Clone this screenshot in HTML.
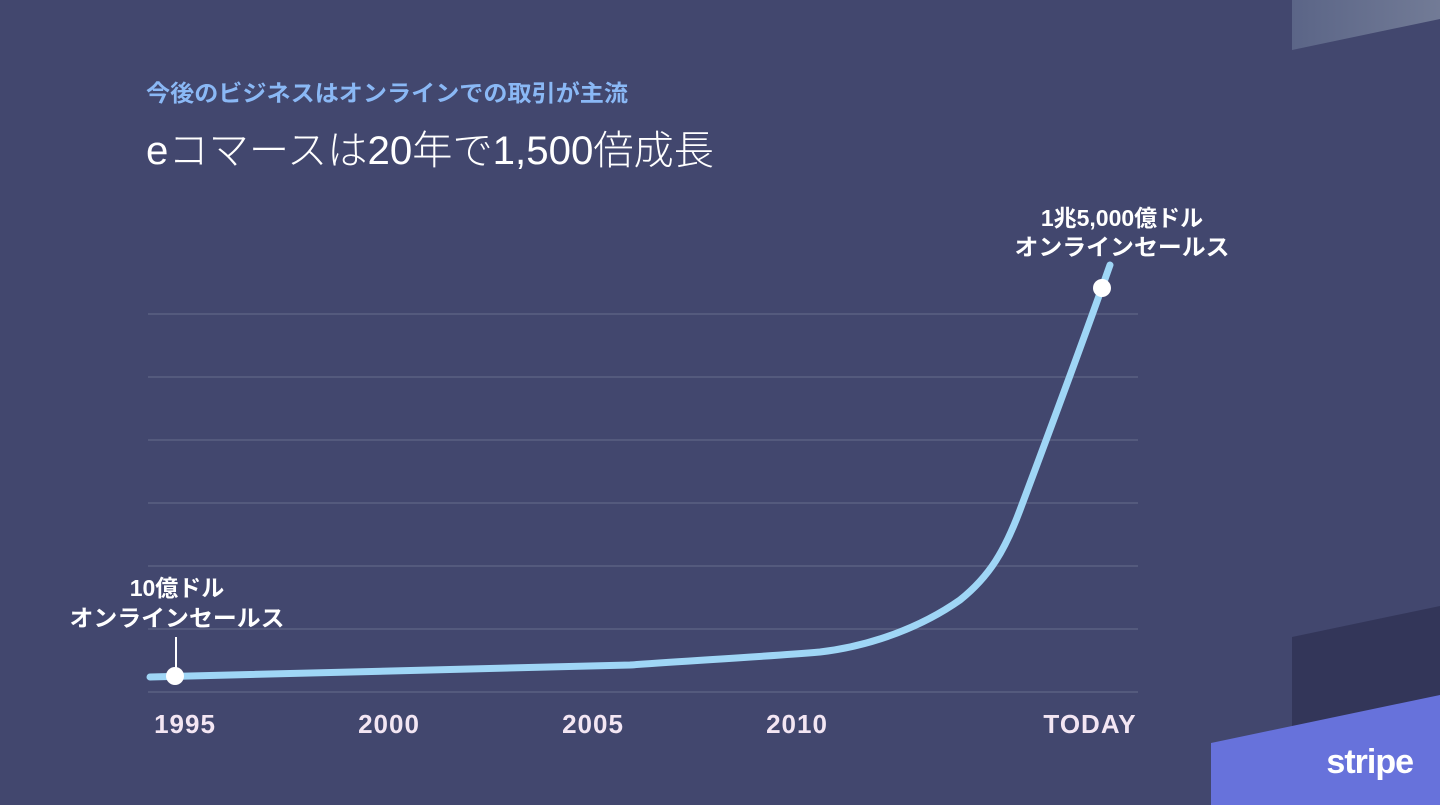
<!DOCTYPE html>
<html><head><meta charset="utf-8"><style>
body{margin:0;width:1440px;height:805px;overflow:hidden;background:#42476e;font-family:"Liberation Sans","Noto Sans CJK JP",sans-serif;}
svg{position:absolute;left:0;top:0}
</style></head><body>
<svg width="1440" height="805" viewBox="0 0 1440 805">
<defs><linearGradient id="g1" x1="0" x2="1"><stop offset="0" stop-color="#5b6587"/><stop offset="1" stop-color="#727b96"/></linearGradient></defs>
<polygon points="1292,0 1440,0 1440,19 1292,50" fill="url(#g1)"/>
<polygon points="1292,637 1440,606 1440,805 1292,805" fill="#333659"/>
<polygon points="1211,743 1440,695 1440,805 1211,805" fill="#6772db"/>
<text x="1413" y="773" font-size="34" font-weight="bold" fill="#fff" text-anchor="end" font-family="Liberation Sans, sans-serif" letter-spacing="-1">stripe</text>
<text x="146" y="101" font-size="23" font-weight="bold" fill="#8ab8f5" textLength="482" lengthAdjust="spacingAndGlyphs">今後のビジネスはオンラインでの取引が主流</text>
<text x="146" y="164" font-size="40" fill="#ffffff" font-weight="300" textLength="568" lengthAdjust="spacingAndGlyphs">eコマースは20年で1,500倍成長</text>
<g stroke="#5a6182" stroke-width="1.5">
<line x1="148" y1="314" x2="1138" y2="314"/><line x1="148" y1="377" x2="1138" y2="377"/><line x1="148" y1="440" x2="1138" y2="440"/><line x1="148" y1="503" x2="1138" y2="503"/><line x1="148" y1="566" x2="1138" y2="566"/><line x1="148" y1="629" x2="1138" y2="629"/><line x1="148" y1="692" x2="1138" y2="692"/>
</g>
<path d="M150,677 L630,665 C700,660 760,657 820,652 C870,646 920,628 960,600 C990,576 1005,550 1020,510 C1050,430 1080,350 1110,265" fill="none" stroke="#9fd6f6" stroke-width="7" stroke-linecap="round"/>
<line x1="176" y1="637" x2="176" y2="676" stroke="#fff" stroke-width="2"/>
<circle cx="175" cy="676" r="9" fill="#fff"/>
<circle cx="1102" cy="288" r="9" fill="#fff"/>
<g font-size="23" fill="#fff" font-weight="bold" text-anchor="middle">
<text x="177" y="596">10億ドル</text>
<text x="177" y="626" textLength="215" lengthAdjust="spacingAndGlyphs">オンラインセールス</text>
<text x="1122" y="226">1兆5,000億ドル</text>
<text x="1122" y="255" textLength="215" lengthAdjust="spacingAndGlyphs">オンラインセールス</text>
</g>
<g font-size="26" fill="#f3e6f3" font-weight="bold" text-anchor="middle" letter-spacing="1">
<text x="185" y="733">1995</text><text x="389" y="733">2000</text><text x="593" y="733">2005</text><text x="797" y="733">2010</text><text x="1090" y="733">TODAY</text>
</g>
</svg>
</body></html>
